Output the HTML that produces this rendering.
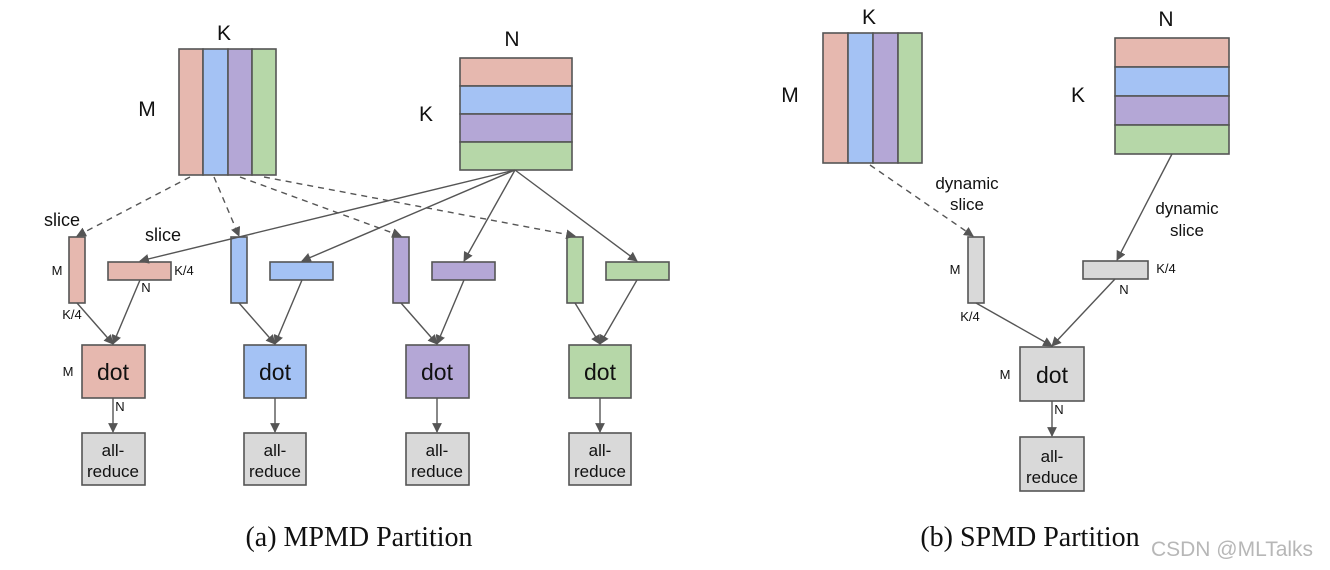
<!DOCTYPE html>
<html><head><meta charset="utf-8"><style>
body{margin:0;background:#fff}
svg{display:block;font-family:"Liberation Sans",sans-serif}
</style></head><body>
<svg width="1330" height="570" viewBox="0 0 1330 570">
<defs>
<marker id="a" viewBox="0 0 10 10" refX="9" refY="5" markerWidth="7" markerHeight="7" orient="auto"><path d="M0,0L10,5L0,10z" fill="#555"/></marker>
</defs>
<g stroke="#555" stroke-width="1.6">
<rect x="179" y="49" width="24" height="126" fill="#e6b8af"/>
<rect x="203" y="49" width="25" height="126" fill="#a4c2f4"/>
<rect x="228" y="49" width="24" height="126" fill="#b4a7d6"/>
<rect x="252" y="49" width="24" height="126" fill="#b6d7a8"/>
<rect x="460" y="58" width="112" height="28" fill="#e6b8af"/>
<rect x="460" y="86" width="112" height="28" fill="#a4c2f4"/>
<rect x="460" y="114" width="112" height="28" fill="#b4a7d6"/>
<rect x="460" y="142" width="112" height="28" fill="#b6d7a8"/>
<rect x="69" y="237" width="16" height="66" fill="#e6b8af"/>
<rect x="108" y="262" width="63" height="18" fill="#e6b8af"/>
<rect x="231" y="237" width="16" height="66" fill="#a4c2f4"/>
<rect x="270" y="262" width="63" height="18" fill="#a4c2f4"/>
<rect x="393" y="237" width="16" height="66" fill="#b4a7d6"/>
<rect x="432" y="262" width="63" height="18" fill="#b4a7d6"/>
<rect x="567" y="237" width="16" height="66" fill="#b6d7a8"/>
<rect x="606" y="262" width="63" height="18" fill="#b6d7a8"/>
<rect x="82" y="345" width="63" height="53" fill="#e6b8af"/>
<rect x="244" y="345" width="62" height="53" fill="#a4c2f4"/>
<rect x="406" y="345" width="63" height="53" fill="#b4a7d6"/>
<rect x="569" y="345" width="62" height="53" fill="#b6d7a8"/>
<rect x="82" y="433" width="63" height="52" fill="#d9d9d9"/>
<rect x="244" y="433" width="62" height="52" fill="#d9d9d9"/>
<rect x="406" y="433" width="63" height="52" fill="#d9d9d9"/>
<rect x="569" y="433" width="62" height="52" fill="#d9d9d9"/>
<rect x="823" y="33" width="25" height="130" fill="#e6b8af"/>
<rect x="848" y="33" width="25" height="130" fill="#a4c2f4"/>
<rect x="873" y="33" width="25" height="130" fill="#b4a7d6"/>
<rect x="898" y="33" width="24" height="130" fill="#b6d7a8"/>
<rect x="1115" y="38" width="114" height="29" fill="#e6b8af"/>
<rect x="1115" y="67" width="114" height="29" fill="#a4c2f4"/>
<rect x="1115" y="96" width="114" height="29" fill="#b4a7d6"/>
<rect x="1115" y="125" width="114" height="29" fill="#b6d7a8"/>
<rect x="968" y="237" width="16" height="66" fill="#d9d9d9"/>
<rect x="1083" y="261" width="65" height="18" fill="#d9d9d9"/>
<rect x="1020" y="347" width="64" height="54" fill="#d9d9d9"/>
<rect x="1020" y="437" width="64" height="54" fill="#d9d9d9"/>
</g>
<g stroke="#555" stroke-width="1.4" fill="none" marker-end="url(#a)">
<g stroke-dasharray="6,5">
<line x1="190" y1="177" x2="77" y2="236"/>
<line x1="214" y1="177" x2="239" y2="236"/>
<line x1="240" y1="177" x2="401" y2="236"/>
<line x1="264" y1="177" x2="575" y2="236"/>
<line x1="870" y1="165" x2="973" y2="236"/>
</g>
<line x1="515" y1="170" x2="140" y2="261"/>
<line x1="515" y1="170" x2="302" y2="261"/>
<line x1="515" y1="170" x2="464" y2="261"/>
<line x1="515" y1="170" x2="637" y2="261"/>
<line x1="77" y1="303" x2="113" y2="344"/>
<line x1="140" y1="280" x2="113" y2="344"/>
<line x1="239" y1="303" x2="275" y2="344"/>
<line x1="302" y1="280" x2="275" y2="344"/>
<line x1="401" y1="303" x2="437" y2="344"/>
<line x1="464" y1="280" x2="437" y2="344"/>
<line x1="575" y1="303" x2="600" y2="344"/>
<line x1="637" y1="280" x2="600" y2="344"/>
<line x1="113" y1="398" x2="113" y2="432"/>
<line x1="275" y1="398" x2="275" y2="432"/>
<line x1="437" y1="398" x2="437" y2="432"/>
<line x1="600" y1="398" x2="600" y2="432"/>
<line x1="1172" y1="154" x2="1117" y2="260"/>
<line x1="976" y1="303" x2="1052" y2="346"/>
<line x1="1115" y1="279" x2="1052" y2="346"/>
<line x1="1052" y1="401" x2="1052" y2="436"/>
</g>
<g fill="#111" font-size="21" text-anchor="middle">
<text x="224" y="40">K</text><text x="147" y="116">M</text>
<text x="512" y="46">N</text><text x="426" y="121">K</text>
<text x="869" y="24">K</text><text x="790" y="102">M</text>
<text x="1166" y="26">N</text><text x="1078" y="102">K</text>
<text x="62" y="226" font-size="18">slice</text>
<text x="163" y="241" font-size="18">slice</text>
<text x="967" y="189" font-size="17">dynamic</text><text x="967" y="210" font-size="17">slice</text>
<text x="1187" y="214" font-size="17">dynamic</text><text x="1187" y="236" font-size="17">slice</text>
<g font-size="23"><text x="113" y="380">dot</text><text x="275" y="380">dot</text><text x="437" y="380">dot</text><text x="600" y="380">dot</text><text x="1052" y="383">dot</text></g>
<g font-size="17">
<text x="113" y="456">all-</text><text x="113" y="477">reduce</text>
<text x="275" y="456">all-</text><text x="275" y="477">reduce</text>
<text x="437" y="456">all-</text><text x="437" y="477">reduce</text>
<text x="600" y="456">all-</text><text x="600" y="477">reduce</text>
<text x="1052" y="462">all-</text><text x="1052" y="483">reduce</text>
</g>
<g font-size="13">
<text x="57" y="275">M</text><text x="184" y="275">K/4</text><text x="146" y="292">N</text>
<text x="72" y="319">K/4</text><text x="68" y="376">M</text><text x="120" y="411">N</text>
<text x="955" y="274">M</text><text x="1166" y="273">K/4</text><text x="1124" y="294">N</text>
<text x="970" y="321">K/4</text><text x="1005" y="379">M</text><text x="1059" y="414">N</text>
</g>
</g>
<g font-family="Liberation Serif,serif" font-size="28" fill="#111" text-anchor="middle">
<text x="359" y="546">(a) MPMD Partition</text>
<text x="1030" y="546">(b) SPMD Partition</text>
</g>
<text x="1232" y="556" font-size="21" fill="#aaa" fill-opacity="0.85" text-anchor="middle">CSDN @MLTalks</text>
</svg>
</body></html>
